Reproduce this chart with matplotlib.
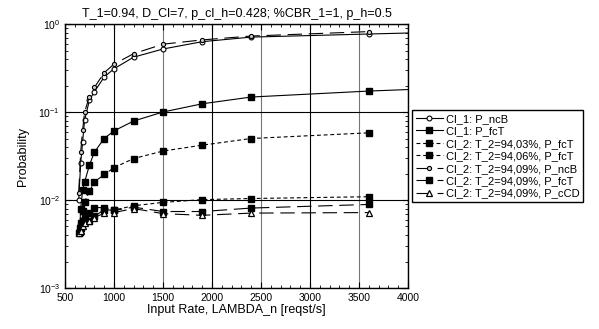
import numpy as np
import matplotlib
matplotlib.use("Agg")
import matplotlib.pyplot as plt
from matplotlib.ticker import MultipleLocator, LogLocator, NullFormatter

plt.rcParams['font.family'] = ['Liberation Sans', 'DejaVu Sans']
plt.rcParams['mathtext.fontset'] = 'custom'
plt.rcParams['mathtext.rm'] = 'Liberation Sans'

# Cl_1 curves (lines continue to 4000 without marker)
x_cl1 = [640, 660, 680, 700, 750, 800, 900, 1000, 1200, 1500, 1900, 2400, 3600, 4000]
cl1_ncb = [0.010, 0.026, 0.046, 0.081, 0.137, 0.17, 0.25, 0.31, 0.42, 0.52, 0.63, 0.71, 0.77, 0.79]
x_cl1_fct = [650, 660, 680, 700, 750, 800, 900, 1000, 1200, 1500, 1900, 2400, 3600, 4000]
cl1_fct = [0.0045, 0.008, 0.013, 0.016, 0.025, 0.035, 0.050, 0.061, 0.079, 0.10, 0.124, 0.148, 0.173, 0.18]

# Cl_2 curves
x_cl2 = [650, 660, 680, 700, 750, 800, 900, 1000, 1200, 1500, 1900, 2400, 3600]
cl2_0903_fct = [0.0048, 0.0055, 0.0075, 0.0095, 0.0126, 0.016, 0.0195, 0.0233, 0.0296, 0.036, 0.042, 0.050, 0.058]
cl2_0906_fct = [0.0043, 0.005, 0.0058, 0.0065, 0.0072, 0.0082, 0.0082, 0.0077, 0.0086, 0.0094, 0.0101, 0.0104, 0.0109]
x_cl2_ncb = [640, 660, 680, 700, 750, 800, 900, 1000, 1200, 1500, 1900, 2400, 3600]
cl2_0909_ncb = [0.012, 0.035, 0.062, 0.10, 0.15, 0.19, 0.28, 0.35, 0.46, 0.59, 0.66, 0.73, 0.82]
cl2_0909_fct = [0.0042, 0.0048, 0.0055, 0.006, 0.0058, 0.0065, 0.0078, 0.0076, 0.0083, 0.0074, 0.0074, 0.0081, 0.0089]
cl2_0909_ccd = [0.0042, 0.0045, 0.005, 0.0055, 0.0057, 0.0063, 0.0071, 0.0072, 0.0080, 0.0070, 0.0067, 0.0071, 0.0072]

fig = plt.figure(figsize=(5.99, 3.29), dpi=100)
ax = fig.add_axes([0.1085, 0.1246, 0.5726, 0.8024])

lw = 0.8
short = (3.5, 2.5)
longd = (13, 6)

ax.plot(x_cl1, cl1_ncb, color='black', lw=lw, marker='o', ms=3.5, mfc='white', mew=0.8,
        markevery=list(range(len(x_cl1) - 1)), label='Cl_1: P_ncB')
ax.plot(x_cl1_fct, cl1_fct, color='black', lw=lw, marker='s', ms=4, mfc='black',
        markevery=list(range(len(x_cl1_fct) - 1)), label='Cl_1: P_fcT')
ax.plot(x_cl2, cl2_0903_fct, color='black', lw=lw, dashes=short, marker='s', ms=4,
        label='Cl_2: T_2=94,03%, P_fcT')
ax.plot(x_cl2, cl2_0906_fct, color='black', lw=lw, dashes=short, marker='s', ms=4,
        label='Cl_2: T_2=94,06%, P_fcT')
ax.plot(x_cl2_ncb, cl2_0909_ncb, color='black', lw=lw, dashes=longd, marker='o', ms=3,
        mfc='#cccccc', mew=0.8, label='Cl_2: T_2=94,09%, P_ncB')
ax.plot(x_cl2_ncb, cl2_0909_fct, color='black', lw=lw, dashes=longd, marker='s', ms=4,
        label='Cl_2: T_2=94,09%, P_fcT')
ax.plot(x_cl2_ncb, cl2_0909_ccd, color='black', lw=lw, dashes=longd, marker='^', ms=5,
        mfc='white', mew=0.9, label='Cl_2: T_2=94,09%, P_cCD')

ax.set_yscale('log')
ax.set_xlim(500, 4000)
ax.set_ylim(1e-3, 1)
ax.xaxis.set_major_locator(MultipleLocator(500))
ax.xaxis.set_minor_locator(MultipleLocator(100))
ax.yaxis.set_major_locator(LogLocator(base=10, numticks=10))
ax.yaxis.set_minor_locator(LogLocator(base=10, subs=np.arange(2, 10), numticks=20))
ax.yaxis.set_minor_formatter(NullFormatter())

ax.tick_params(which='both', direction='in', top=True, right=True, labelsize=7.5)
ax.tick_params(which='major', length=4, width=0.8)
ax.tick_params(which='minor', length=2, width=0.6)
for s in ax.spines.values():
    s.set_linewidth(1.0)

ax.grid(True, which='major', axis='both', color='black', lw=0.8)
fig.canvas.draw()
for tick in ax.xaxis.get_major_ticks():
    if int(round(tick.get_loc())) % 1000 == 500:
        tick.gridline.set_color('#777777')

ax.set_xlabel('Input Rate, LAMBDA_n [reqst/s]', fontsize=9, labelpad=1)
ax.set_ylabel('Probability', fontsize=9, labelpad=7)
ax.set_title('T_1=0.94, D_Cl=7, p_cl_h=0.428; %CBR_1=1, p_h=0.5', fontsize=9, pad=5)

fig.legend(loc='upper left', bbox_to_anchor=(412 / 599, 1 - 110 / 329), fontsize=8,
           frameon=True, fancybox=False, edgecolor='black', framealpha=1,
           borderpad=0.35, labelspacing=0.22, handlelength=2.4, handletextpad=0.3,
           borderaxespad=0)

fig.savefig('out.png', dpi=100)
